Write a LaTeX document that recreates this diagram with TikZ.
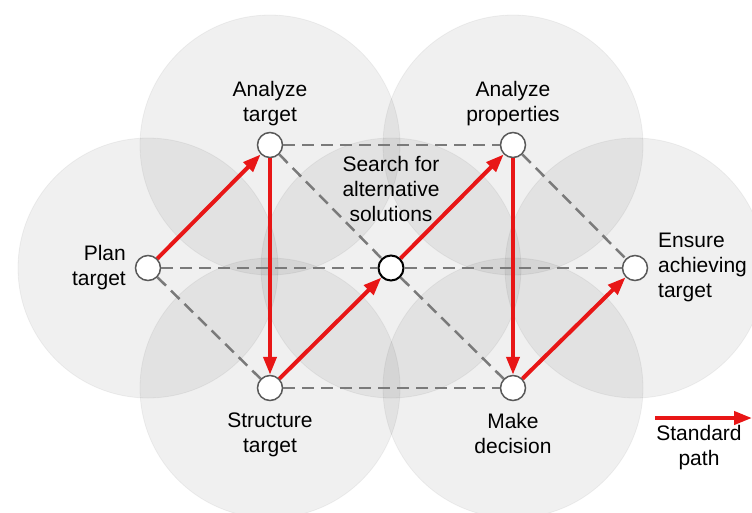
\documentclass[tikz,border=0pt]{standalone}
\usepackage{fontspec}
\setmainfont{Liberation Sans}
\usepackage{tikz}
\usetikzlibrary{positioning,arrows.meta}
\definecolor{pathred}{RGB}{232,22,22}
\definecolor{linkgray}{RGB}{122,122,122}
\begin{document}
\begin{tikzpicture}[x=1pt,y=1pt]
		\tikzstyle{every node}+=[inner sep=0pt, font=\fontsize{21}{25}\selectfont]
		\tikzstyle{zone}=[fill=black, fill opacity=0.06, draw=black, draw opacity=0.05, line width=0.8pt]
		\tikzstyle{stage}=[circle, minimum size=25pt, fill=white, draw=black!65, line width=1.5pt]
		\tikzstyle{hub}=[stage, draw=black, line width=2pt]
		\tikzstyle{link}=[linkgray, line width=2.5pt, dash pattern=on 12pt off 7pt]
		\tikzstyle{stdpath}=[pathred, line width=4pt, -{Triangle[length=18pt,width=13pt]}]
		\useasboundingbox (0,0) rectangle (752,-512);
		% shaded areas
		\foreach \x/\y in {148/-268, 270/-145, 513/-145, 391/-268, 270/-388, 513/-388, 635/-268}
			\draw [zone] (\x,\y) circle (130pt);
		% stages
		\node [stage] (plan) at (148,-268) {};
		\node [stage] (atgt) at (270,-145) {};
		\node [stage] (aprop) at (513,-145) {};
		\node [hub] (search) at (391,-268) {};
		\node [stage] (struct) at (270,-388) {};
		\node [stage] (decide) at (513,-388) {};
		\node [stage] (ensure) at (635,-268) {};
		% labels
		\node [align=right, anchor=south east] (planlbl) at (126,-290) {Plan\\target};
		\node [align=center, anchor=south] (atgtlbl) at (270,-126) {Analyze\\target};
		\node [align=center, anchor=south] (aproplbl) at (513,-126) {Analyze\\properties};
		\node [align=center, anchor=south] (searchlbl) at (391,-222) {Search for\\alternative\\solutions};
		\node [align=left, anchor=south west] (ensurelbl) at (658,-302) {Ensure\\achieving\\target};
		\node [align=center, anchor=north] (structlbl) at (270,-413) {Structure\\target};
		\node [align=center, anchor=north] (decidelbl) at (513,-413) {Make\\decision};
		\node [align=center, anchor=north] (stdlbl) at (699,-425) {Standard\\path};
		% alternative links
		\draw [link] (plan) -- (search);
		\draw [link] (search) -- (ensure);
		\draw [link] (atgt) -- (aprop);
		\draw [link] (struct) -- (decide);
		\draw [link] (plan) -- (struct);
		\draw [link] (atgt) -- (search);
		\draw [link] (search) -- (decide);
		\draw [link] (aprop) -- (ensure);
		% standard path
		\draw [stdpath] (plan) -- (atgt);
		\draw [stdpath] (atgt) -- (struct);
		\draw [stdpath] (struct) -- (search);
		\draw [stdpath] (search) -- (aprop);
		\draw [stdpath] (aprop) -- (decide);
		\draw [stdpath] (decide) -- (ensure);
		\coordinate (lgA) at (655,-418);
		\coordinate (lgB) at (752,-418);
		\draw [stdpath] (lgA) -- (lgB);
\end{tikzpicture}
\end{document}
